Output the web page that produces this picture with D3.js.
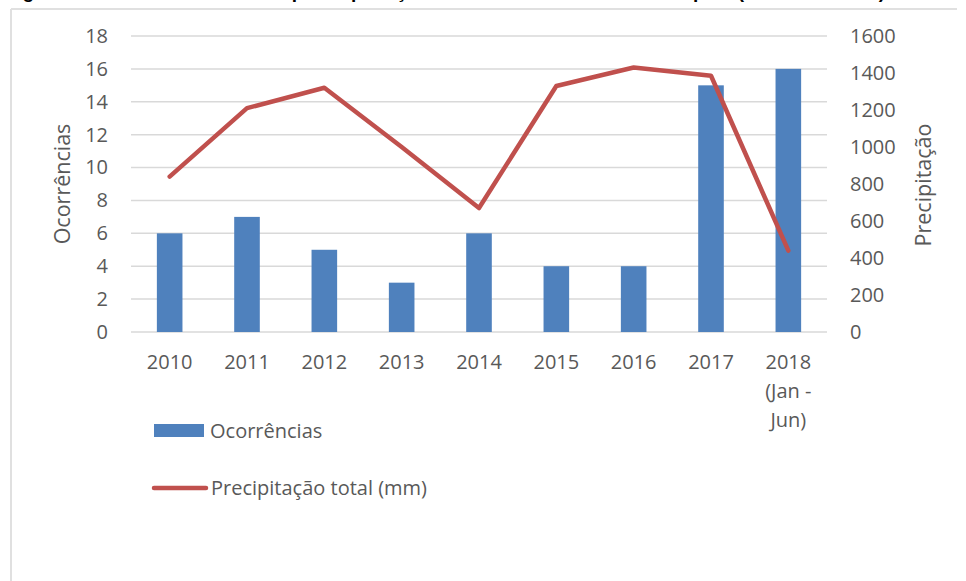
<!DOCTYPE html>
<html>
<head>
<meta charset="utf-8">
<script src="https://cdn.jsdelivr.net/npm/d3@7"></script>
<style>
  body { margin: 0; background: #fff; }
  svg { display: block; }
</style>
</head>
<body>
<svg width="966" height="581"></svg>
<script>
// data
var years = ["2010", "2011", "2012", "2013", "2014", "2015", "2016", "2017", "2018\n(Jan -\nJun)"];
var ocorrencias = [6, 7, 5, 3, 6, 4, 4, 15, 16];
var precipitacao = [840, 1210, 1320, 1000, 670, 1330, 1430, 1385, 440];
var leftTicks = [0, 2, 4, 6, 8, 10, 12, 14, 16, 18];
var rightTicks = [0, 200, 400, 600, 800, 1000, 1200, 1400, 1600];

var font = "'Open Sans', sans-serif";
var grey = "#595959";

var svg = d3.select("svg");

// cropped title: only the descenders peek in at the top
svg.append("text")
  .attr("x", 0)
  .attr("y", -2)
  .attr("textLength", 885)
  .attr("lengthAdjust", "spacing")
  .style("font-family", "'Liberation Sans', sans-serif")
  .style("font-size", "19px")
  .style("font-weight", "bold")
  .text("Figura 4 - Ocorrências e precipitação total anual no município (2010 - 2018)");

// frame of the chart area
svg.append("line").attr("x1", 11).attr("x2", 957).attr("y1", 9).attr("y2", 9)
  .style("stroke", "#e0e0e0").style("stroke-width", 2);
svg.append("line").attr("x1", 11).attr("x2", 11).attr("y1", 9).attr("y2", 581)
  .style("stroke", "#e0e0e0").style("stroke-width", 2);

var plotLeft = 131, plotRight = 827, plotTop = 36, plotBottom = 332;

var x = d3.scaleBand().domain(years).range([plotLeft, plotRight]).padding(0);
var yL = d3.scaleLinear().domain([0, 18]).range([plotBottom, plotTop]);
var yR = d3.scaleLinear().domain([0, 1600]).range([plotBottom, plotTop]);

// gridlines
svg.append("g")
  .selectAll("line")
  .data(leftTicks)
  .enter()
  .append("line")
  .attr("x1", plotLeft)
  .attr("x2", plotRight)
  .attr("y1", function (d) { return yL(d); })
  .attr("y2", function (d) { return yL(d); })
  .style("stroke", "#d9d9d9")
  .style("stroke-width", 1.5);

// left axis
var axL = svg.append("g")
  .attr("transform", "translate(" + plotLeft + ",0)")
  .call(d3.axisLeft(yL).tickValues(leftTicks).tickSize(0).tickPadding(23));
axL.select(".domain").remove();
axL.selectAll("text").style("font-family", font).style("font-size", "20px").style("fill", grey);

// right axis
var axR = svg.append("g")
  .attr("transform", "translate(" + plotRight + ",0)")
  .call(d3.axisRight(yR).tickValues(rightTicks).tickFormat(d3.format("d")).tickSize(0).tickPadding(23));
axR.select(".domain").remove();
axR.selectAll("text").style("font-family", font).style("font-size", "20px").style("fill", grey);

// axis titles
svg.append("text")
  .attr("text-anchor", "middle")
  .attr("transform", "translate(70,184)rotate(-90)")
  .style("font-family", font)
  .style("font-size", "21.5px")
  .style("fill", grey)
  .text("Ocorrências");

svg.append("text")
  .attr("text-anchor", "middle")
  .attr("transform", "translate(931,185)rotate(-90)")
  .style("font-family", font)
  .style("font-size", "21.5px")
  .style("fill", grey)
  .text("Precipitação");

// x labels (multi-line for the last one)
var xl = svg.append("g")
  .selectAll("text")
  .data(years)
  .enter()
  .append("text")
  .attr("text-anchor", "middle")
  .attr("y", 369)
  .style("font-family", font)
  .style("font-size", "20px")
  .style("fill", grey);
xl.each(function (d) {
  var t = d3.select(this);
  d.split("\n").forEach(function (s, i) {
    t.append("tspan")
      .attr("x", x(d) + x.bandwidth() / 2)
      .attr("dy", i == 0 ? 0 : 29)
      .text(s);
  });
});

// bars
var bw = 25.6;
svg.append("g")
  .selectAll("rect")
  .data(ocorrencias)
  .enter()
  .append("rect")
  .attr("x", function (d, i) { return x(years[i]) + x.bandwidth() / 2 - bw / 2; })
  .attr("y", function (d) { return yL(d); })
  .attr("width", bw)
  .attr("height", function (d) { return plotBottom - yL(d); })
  .style("fill", "#4f81bd");

// precipitation line
var line = d3.line()
  .x(function (d, i) { return x(years[i]) + x.bandwidth() / 2; })
  .y(function (d) { return yR(d); });

svg.append("path")
  .datum(precipitacao)
  .attr("d", line)
  .style("fill", "none")
  .style("stroke", "#c0504d")
  .style("stroke-width", 4.5)
  .style("stroke-linejoin", "round")
  .style("stroke-linecap", "round");

// legend
svg.append("rect")
  .attr("x", 154).attr("y", 424).attr("width", 50).attr("height", 13)
  .style("fill", "#4f81bd");
svg.append("text")
  .attr("x", 210).attr("y", 438)
  .style("font-family", font).style("font-size", "20px").style("fill", grey)
  .text("Ocorrências");

svg.append("line")
  .attr("x1", 154).attr("x2", 206).attr("y1", 488).attr("y2", 488)
  .style("stroke", "#c0504d").style("stroke-width", 4.5).style("stroke-linecap", "round");
svg.append("text")
  .attr("x", 211).attr("y", 495)
  .style("font-family", font).style("font-size", "20px").style("fill", grey)
  .text("Precipitação total (mm)");
</script>
</body>
</html>
